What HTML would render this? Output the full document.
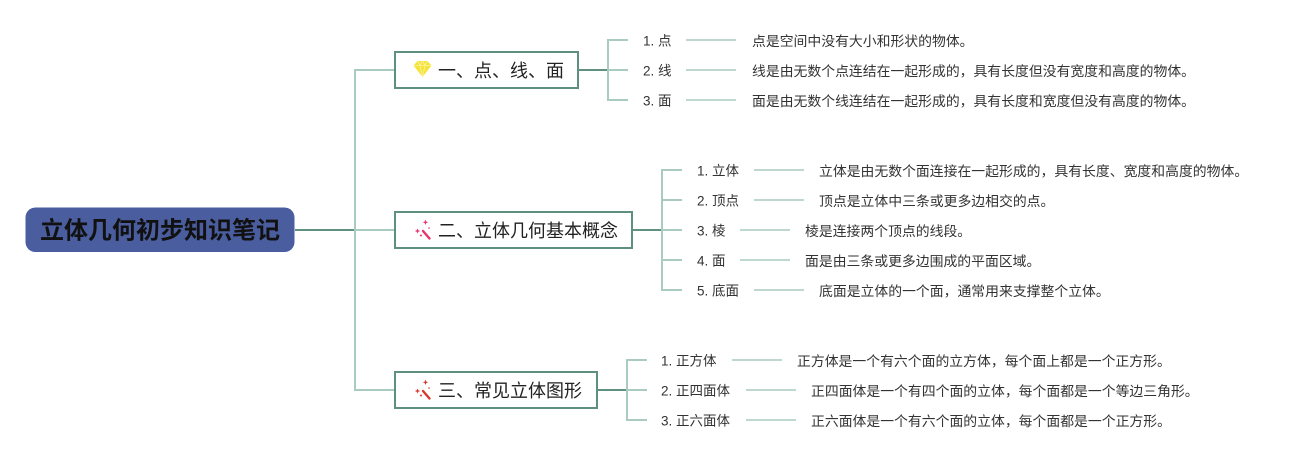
<!DOCTYPE html>
<html><head><meta charset="utf-8"><style>
html,body{margin:0;padding:0;background:#fff;}
svg{display:block;}
text{font-family:"Liberation Sans","Noto Sans CJK SC",sans-serif;}
</style></head><body>
<svg width="1313" height="460" viewBox="0 0 1313 460" xmlns="http://www.w3.org/2000/svg">
<!-- central node -->
<rect x="25.5" y="207.5" width="269" height="44.5" rx="10" fill="#4a5d9f"/>
<text x="160" y="231" text-anchor="middle" dominant-baseline="central" font-size="24" font-weight="bold" fill="#111">立体几何初步知识笔记</text>

<!-- main connectors -->
<g fill="none" stroke-width="2">
<line x1="295" y1="230" x2="355" y2="230" stroke="#5f9080"/>
<path d="M395 70 H355 V390 H395" stroke="#a9cbc0"/>
<line x1="355" y1="230" x2="395" y2="230" stroke="#a9cbc0"/>
</g>

<!-- box 1 -->
<rect x="395" y="52" width="183" height="36" fill="#fff" stroke="#5e8f80" stroke-width="2"/>
<g>
<polygon points="413.5,65.5 417.5,61 427.5,61 431.5,65.5 422.5,77" fill="#f4e43a"/>
<path d="M413.5 65.5 H431.5 M417.5 61 L420 65.5 L422.5 61 L425 65.5 L427.5 61 M420 65.5 L422.5 77 L425 65.5" stroke="#faf29a" stroke-width="0.8" fill="none"/>
</g>
<text x="438" y="71" dominant-baseline="central" font-size="18" fill="#222">一、点、线、面</text>

<!-- box 2 -->
<rect x="395" y="212" width="237" height="36" fill="#fff" stroke="#5e8f80" stroke-width="2"/>
<g fill="#e8336b" stroke="#e8336b">
<line x1="423" y1="231" x2="429.5" y2="238.5" stroke-width="2.4" stroke-linecap="round"/>
<path d="M425.5 219.5 L426.3 221.6 L428.3 222.3 L426.3 223 L425.5 225 L424.7 223 L422.7 222.3 L424.7 221.6 Z" stroke="none"/>
<path d="M417.5 228.5 L418.3 230.3 L420.2 231 L418.3 231.7 L417.5 233.5 L416.7 231.7 L414.8 231 L416.7 230.3 Z" stroke="none"/>
<circle cx="421" cy="235.5" r="1" stroke="none"/>
<circle cx="429" cy="228" r="0.8" stroke="none"/>
</g>
<text x="438" y="231" dominant-baseline="central" font-size="18" fill="#222">二、立体几何基本概念</text>

<!-- box 3 -->
<rect x="395" y="372" width="202" height="36" fill="#fff" stroke="#5e8f80" stroke-width="2"/>
<g fill="#d63a2e" stroke="#d63a2e">
<line x1="423" y1="391" x2="429.5" y2="398.5" stroke-width="2.4" stroke-linecap="round"/>
<path d="M425.5 379.5 L426.3 381.6 L428.3 382.3 L426.3 383 L425.5 385 L424.7 383 L422.7 382.3 L424.7 381.6 Z" stroke="none"/>
<path d="M417.5 388.5 L418.3 390.3 L420.2 391 L418.3 391.7 L417.5 393.5 L416.7 391.7 L414.8 391 L416.7 390.3 Z" stroke="none"/>
<circle cx="421" cy="395.5" r="1" stroke="none"/>
<circle cx="429" cy="388" r="0.8" stroke="none"/>
</g>
<text x="438" y="391" dominant-baseline="central" font-size="18" fill="#222">三、常见立体图形</text>

<!-- children connectors -->
<g fill="none" stroke-width="2">
<line x1="578" y1="70" x2="608" y2="70" stroke="#5f9080"/>
<path d="M628 40 H608 V100 H628 M608 70 H628" stroke="#a9cbc0"/>
<line x1="632" y1="230" x2="662" y2="230" stroke="#5f9080"/>
<path d="M682 170 H662 V290 H682 M662 200 H682 M662 230 H682 M662 260 H682" stroke="#a9cbc0"/>
<line x1="597" y1="390" x2="627" y2="390" stroke="#5f9080"/>
<path d="M647 360 H627 V420 H647 M627 390 H647" stroke="#a9cbc0"/>
</g>
<g stroke="#a9cbc0" stroke-width="1.5">
<line x1="686" y1="40" x2="736" y2="40"/>
<line x1="686" y1="70" x2="736" y2="70"/>
<line x1="686" y1="100" x2="736" y2="100"/>
<line x1="754" y1="170" x2="804" y2="170"/>
<line x1="754" y1="200" x2="804" y2="200"/>
<line x1="740" y1="230" x2="790" y2="230"/>
<line x1="740" y1="260" x2="790" y2="260"/>
<line x1="754" y1="290" x2="804" y2="290"/>
<line x1="732" y1="360" x2="782" y2="360"/>
<line x1="746" y1="390" x2="796" y2="390"/>
<line x1="746" y1="420" x2="796" y2="420"/>
</g>
<g font-size="13.5" fill="#333" dominant-baseline="central">
<text x="643" y="41">1. 点</text>
<text x="643" y="71">2. 线</text>
<text x="643" y="101">3. 面</text>
<text x="697" y="171">1. 立体</text>
<text x="697" y="201">2. 顶点</text>
<text x="697" y="231">3. 棱</text>
<text x="697" y="261">4. 面</text>
<text x="697" y="291">5. 底面</text>
<text x="661" y="361">1. 正方体</text>
<text x="661" y="391">2. 正四面体</text>
<text x="661" y="421">3. 正六面体</text>
</g>
<g font-size="13.85" fill="#333" dominant-baseline="central">
<text x="752" y="41">点是空间中没有大小和形状的物体。</text>
<text x="752" y="71">线是由无数个点连结在一起形成的，具有长度但没有宽度和高度的物体。</text>
<text x="752" y="101">面是由无数个线连结在一起形成的，具有长度和宽度但没有高度的物体。</text>
<text x="819" y="171">立体是由无数个面连接在一起形成的，具有长度、宽度和高度的物体。</text>
<text x="819" y="201">顶点是立体中三条或更多边相交的点。</text>
<text x="805" y="231">棱是连接两个顶点的线段。</text>
<text x="805" y="261">面是由三条或更多边围成的平面区域。</text>
<text x="819" y="291">底面是立体的一个面，通常用来支撑整个立体。</text>
<text x="797" y="361">正方体是一个有六个面的立方体，每个面上都是一个正方形。</text>
<text x="811" y="391">正四面体是一个有四个面的立体，每个面都是一个等边三角形。</text>
<text x="811" y="421">正六面体是一个有六个面的立体，每个面都是一个正方形。</text>
</g>
</svg>
</body></html>
